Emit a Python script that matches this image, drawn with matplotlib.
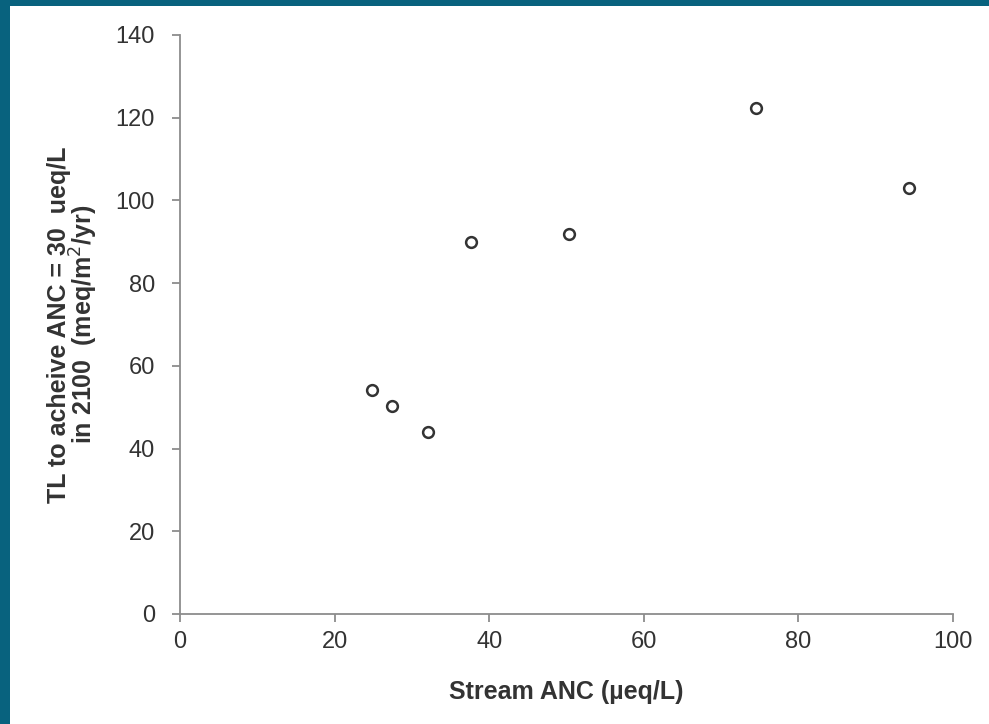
import matplotlib
matplotlib.use("Agg")
import matplotlib.pyplot as plt
from matplotlib.patches import Rectangle

# Stream ANC vs target load
stream_anc = [24.8, 27.4, 32.1, 37.7, 50.3, 74.5, 94.3]
target_load = [54.2, 50.3, 44.0, 89.9, 91.9, 122.4, 103.0]

plt.rcParams['font.family'] = ['Liberation Sans', 'DejaVu Sans']

fig = plt.figure(figsize=(9.89, 7.24), dpi=100)
ax = fig.add_axes([0.182, 0.152, 0.7816, 0.7998])

# teal frame along the top and left edge
fig.patches.append(Rectangle((0, 1 - 6 / 724), 1, 6 / 724, transform=fig.transFigure,
                             facecolor='#08627e', edgecolor='none', zorder=0))
fig.patches.append(Rectangle((0, 0), 10 / 989, 1, transform=fig.transFigure,
                             facecolor='#08627e', edgecolor='none', zorder=0))

ax.scatter(stream_anc, target_load, s=60, facecolors='white', edgecolors='#333333',
           linewidths=1.8, zorder=3, clip_on=False)

ax.set_xlim(0, 100)
ax.set_ylim(0, 140)
ax.set_xticks(range(0, 101, 20))
ax.set_yticks(range(0, 141, 20))

for side in ['top', 'right']:
    ax.spines[side].set_visible(False)
for side in ['left', 'bottom']:
    ax.spines[side].set_color('#8c8c8c')
    ax.spines[side].set_linewidth(1.3)

ax.tick_params(direction='out', length=6, width=1.3, color='#8c8c8c',
               labelsize=17, labelcolor='#333333')
ax.tick_params(axis='x', pad=6)
ax.tick_params(axis='y', pad=12)

ax.set_xlabel('Stream ANC (\u00b5eq/L)', fontsize=18, fontweight='bold',
              color='#333333', labelpad=20)
ax.set_ylabel('TL to acheive ANC = 30  ueq/L\nin 2100  (meq/m$^2$/yr)', fontsize=18,
              fontweight='bold', color='#333333', labelpad=11, linespacing=0.88)

fig.savefig('out.png', dpi=100, facecolor='white')
